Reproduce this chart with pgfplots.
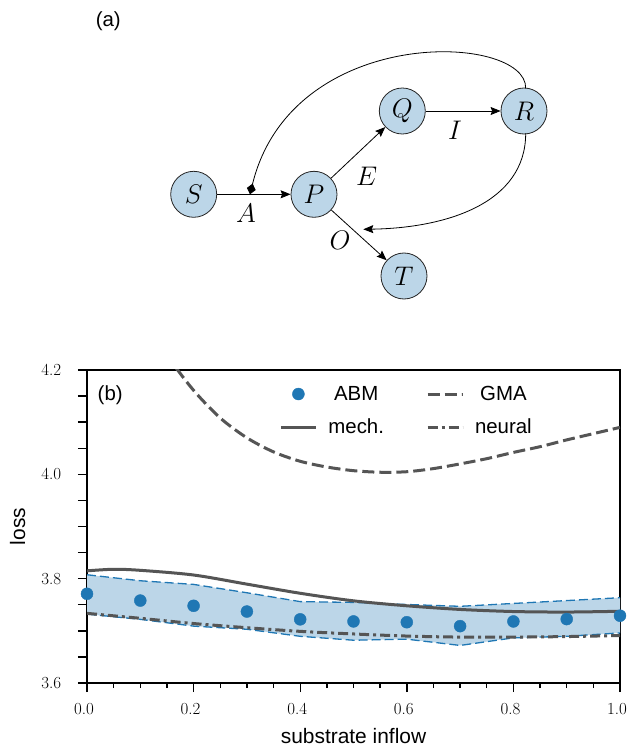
\RequirePackage{fix-cm}
\documentclass[border=0pt]{standalone}
\usepackage[no-math]{fontspec}
\usepackage{pgfplots}
\pgfplotsset{compat=1.18}
\usepgfplotslibrary{fillbetween}
\usetikzlibrary{arrows.meta}
\newfontfamily\arial{Liberation Sans}
\newfontfamily\lmr{Latin Modern Roman}
\newcommand{\legfont}{\arial\fontsize{20.5}{24}\selectfont}
\newcommand{\tickfont}{\lmr\fontsize{17}{19}\selectfont}
\definecolor{abm}{HTML}{1F77B4}
\definecolor{dg}{HTML}{555555}
\definecolor{nodefill}{HTML}{BCD6E8}

\pgfplotstableread{
x y
0.0 3.7710
0.1 3.7580
0.2 3.7480
0.3 3.7370
0.4 3.7220
0.5 3.7180
0.6 3.7165
0.7 3.7090
0.8 3.7180
0.9 3.7225
1.0 3.7290
}\abmdata

\pgfplotstableread{
x y
0.0 3.8075
0.1 3.7960
0.2 3.7890
0.3 3.7730
0.4 3.7560
0.5 3.7545
0.6 3.7505
0.7 3.7470
0.8 3.7525
0.9 3.7580
1.0 3.7635
}\upperdata

\pgfplotstableread{
x y
0.0 3.7320
0.1 3.7220
0.2 3.7090
0.3 3.7030
0.4 3.6895
0.5 3.6820
0.6 3.6840
0.7 3.6720
0.8 3.6865
0.9 3.6895
1.0 3.6960
}\lowerdata

\pgfplotstableread{
x y
0.00 3.8150
0.05 3.8180
0.10 3.8160
0.20 3.8070
0.30 3.7895
0.40 3.7720
0.50 3.7575
0.60 3.7480
0.70 3.7410
0.80 3.7370
0.90 3.7360
1.00 3.7375
}\mechdata

\pgfplotstableread{
x y
0.00 3.7335
0.10 3.7240
0.20 3.7140
0.30 3.7060
0.40 3.6990
0.50 3.6940
0.60 3.6900
0.70 3.6880
0.80 3.6880
0.90 3.6890
1.00 3.6910
}\neuraldata

\pgfplotstableread{
x y
0.00 4.480
0.05 4.390
0.10 4.305
0.15 4.228
0.20 4.161
0.25 4.108
0.30 4.070
0.35 4.043
0.40 4.025
0.45 4.014
0.50 4.007
0.55 4.004
0.60 4.005
0.65 4.011
0.70 4.020
0.75 4.030
0.80 4.042
0.85 4.053
0.90 4.066
0.95 4.078
1.00 4.090
}\gmadata

\begin{document}
\begin{tikzpicture}
\begin{axis}[
  at={(0,0)}, anchor=origin,
  scale only axis, width=533bp, height=313bp,
  xmin=0, xmax=1, ymin=3.6, ymax=4.2,
  xtick={0,0.2,0.4,0.6,0.8,1.0},
  xticklabels={},
  ytick={3.6,3.65,3.7,3.75,3.8,3.85,3.9,3.95,4.0,4.05,4.1,4.15,4.2},
  yticklabels={},
  minor x tick num=3,
  tick align=outside, xtick pos=bottom, ytick pos=left,
  major tick length=9bp, minor tick length=5bp,
  every tick/.style={black, line width=1.4bp},
  axis line style={line width=2bp},
  every axis x label/.style={at={(axis description cs:0.5,-0.1927)}, anchor=base, font=\arial\fontsize{21}{24}\selectfont},
  every axis y label/.style={at={(axis description cs:-0.1163,0.5)}, rotate=90, anchor=base, font=\arial\fontsize{21}{24}\selectfont},
  xlabel={substrate inflow}, ylabel={loss},
  legend columns=2,
  legend style={draw=none, fill=none, at={(axis description cs:0.355,0.965)}, anchor=north west,
    font=\legfont, nodes={inner sep=3bp},
    /tikz/every odd column/.append style={column sep=8bp},
    /tikz/every even column/.append style={column sep=39bp}, row sep=11bp},
  legend image code/.code={\draw[mark repeat=2,mark phase=2,#1] plot coordinates {(0bp,0bp) (17.5bp,0bp) (35bp,0bp)};},
]
\addplot[name path=up, draw=none, forget plot] table {\upperdata};
\addplot[name path=lo, draw=none, forget plot] table {\lowerdata};
\addplot[nodefill, forget plot] fill between[of=up and lo];
\addplot[abm, line width=1.3bp, dash pattern=on 9bp off 4bp, forget plot] table {\upperdata};
\addplot[abm, line width=1.3bp, dash pattern=on 9bp off 4bp, forget plot] table {\lowerdata};
\addplot[only marks, mark=*, mark size=6bp, abm, mark options={draw=abm, fill=abm}] table {\abmdata};
\addlegendentry{\legfont ABM}
\addplot[dg, line width=3bp, dash pattern=on 12bp off 5bp, smooth, tension=0.5] table {\gmadata};
\addlegendentry{\legfont GMA}
\addplot[dg, line width=3bp, smooth, tension=0.5] table {\mechdata};
\addlegendentry{\legfont mech.}
\addplot[dg, line width=3bp, dash pattern=on 10bp off 4bp on 3bp off 4bp, smooth, tension=0.5] table {\neuraldata};
\addlegendentry{\legfont neural}
\end{axis}

\begin{scope}[x=1bp, y=1bp]
% tick labels (Latin Modern, as in the reference)
\foreach \yv/\yl in {0/3.6, 104.33/3.8, 208.67/4.0, 313/4.2}
  \node[anchor=base east, inner sep=0pt] at (-25.6,\yv-5.5) {\tickfont \yl};
\foreach \xv/\xl in {0/0.0, 106.6/0.2, 213.2/0.4, 319.8/0.6, 426.4/0.8, 533/1.0}
  \node[anchor=base, inner sep=0pt] at (\xv-3,-31.6) {\tickfont \xl};
\tikzset{st/.style={circle, draw=black!85, line width=0.8bp, fill=nodefill, minimum size=46bp, inner sep=0pt, font=\fontsize{27}{30}\selectfont},
  lab/.style={font=\fontsize{27}{30}\selectfont, inner sep=0pt},
  arr/.style={line width=0.8bp, -{Stealth[length=10bp, width=8bp, inset=1.5bp]}}}
\node[st] (S) at (106.7,488.7) {$S$};
\node[st] (P) at (227,488.7) {$P$};
\node[st] (Q) at (315.3,572) {$Q$};
\node[st] (R) at (437,572) {$R$};
\node[st] (T) at (317,407) {$T$};
\draw[arr] (S) -- (P);
\draw[arr] (P) -- (Q);
\draw[arr] (Q) -- (R);
\draw[arr] (P) -- (T);
\draw[line width=0.8bp, -{Diamond[length=11bp, width=9bp]}] (438.7,594.7) .. controls (440,650) and (205,660) .. (163,488.7);
\draw[arr] (438.7,549.7) .. controls (438.7,480) and (360,455) .. (276.3,453.7);
\node[lab] at (159,470) {$A$};
\node[lab] at (279.7,506.3) {$E$};
\node[lab] at (368,553) {$I$};
\node[lab] at (253,443) {$O$};
\node[font=\arial\fontsize{20.5}{24}\selectfont] at (21.3,661.3) {(a)};
\node[font=\arial\fontsize{20.5}{24}\selectfont] at (23.2,288) {(b)};
\end{scope}
\pgfresetboundingbox
\path (-87bp,-64bp) rectangle (542bp,683bp);
\end{tikzpicture}
\end{document}
